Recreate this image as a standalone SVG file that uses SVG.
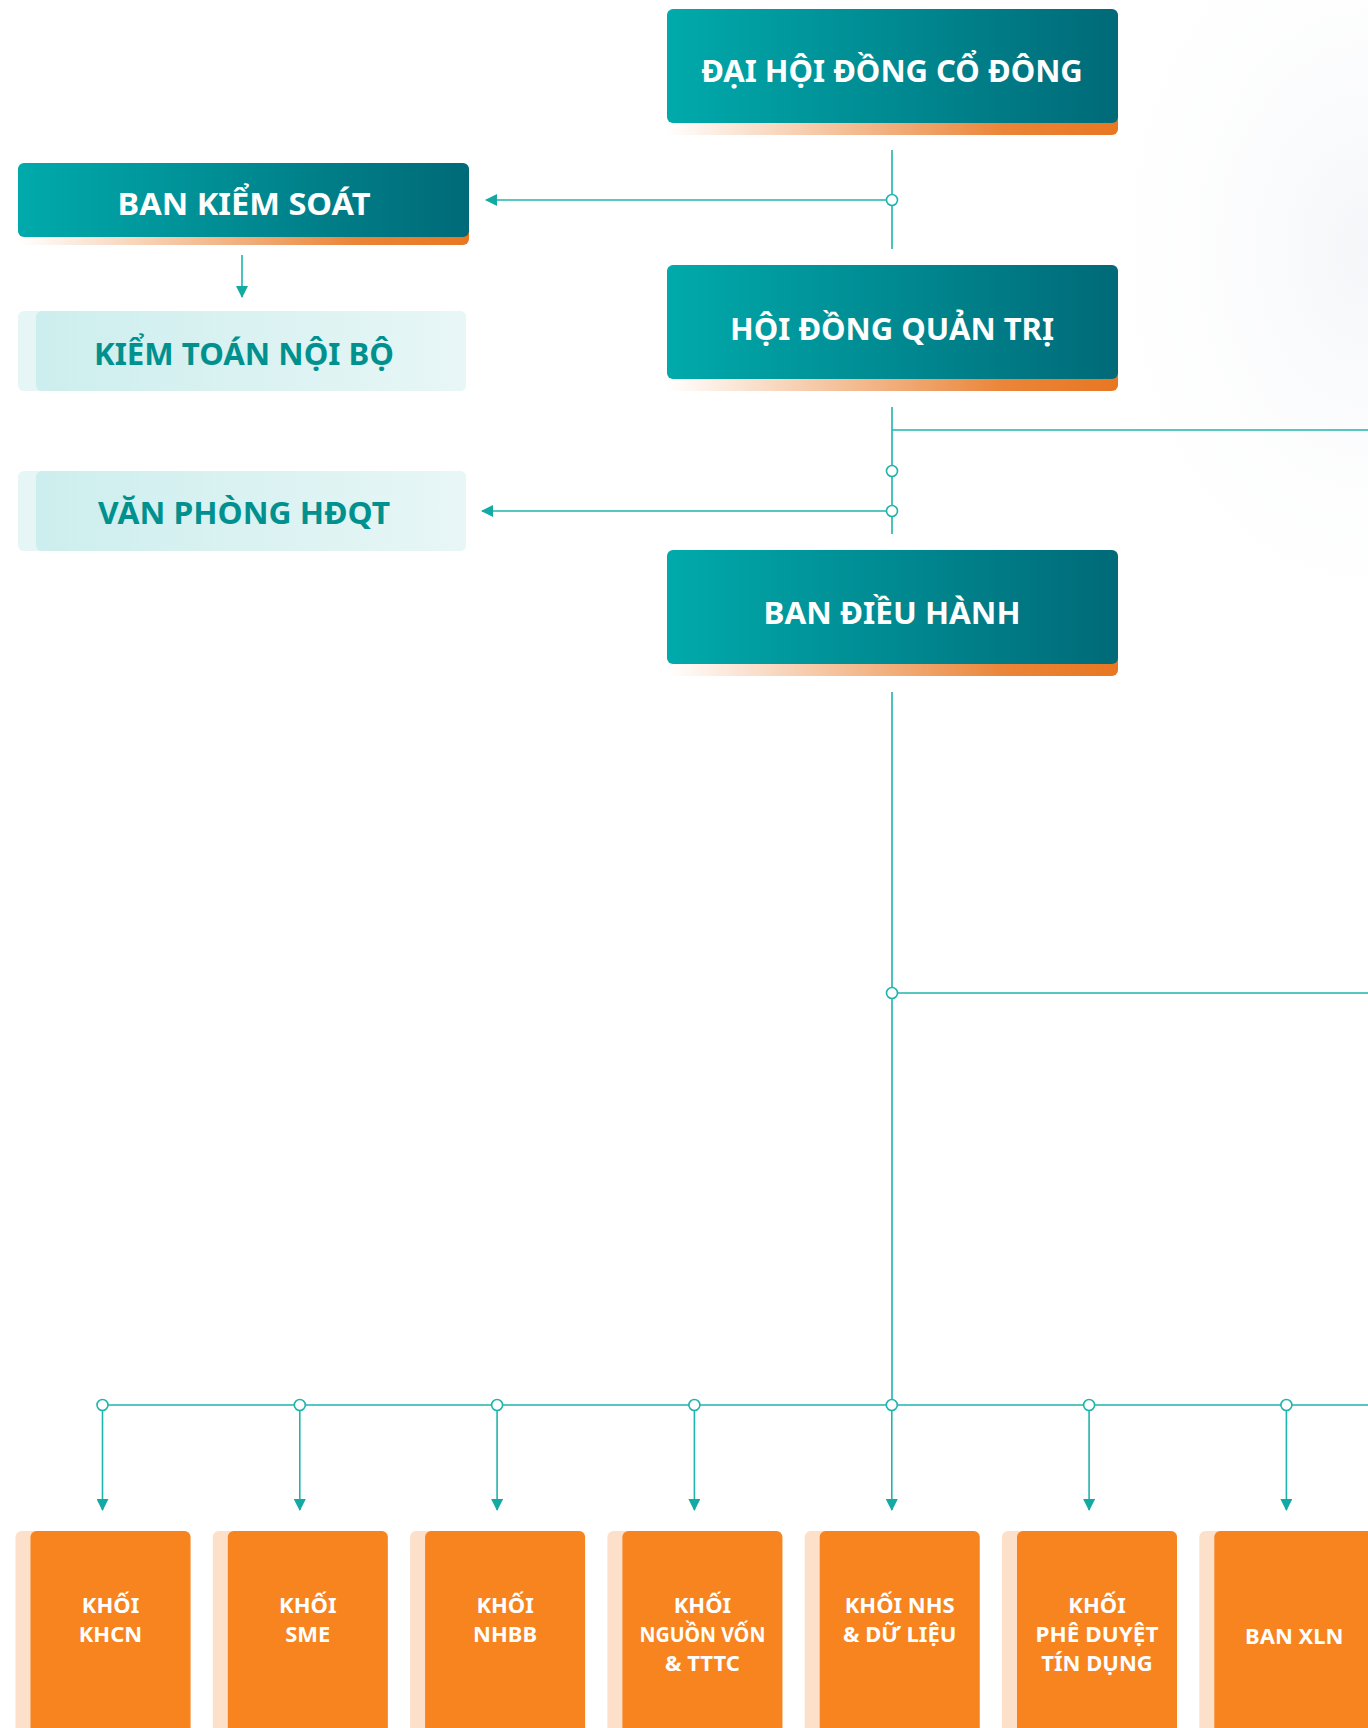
<svg xmlns="http://www.w3.org/2000/svg" width="1368" height="1728" viewBox="0 0 1368 1728">
  <defs>
    <linearGradient id="teal" x1="0" y1="0" x2="1" y2="0">
      <stop offset="0" stop-color="#00aaab"/>
      <stop offset="1" stop-color="#006a78"/>
    </linearGradient>
    <linearGradient id="orangeShadow" x1="0" y1="0" x2="1" y2="0">
      <stop offset="0" stop-color="#e87722" stop-opacity="0"/>
      <stop offset="0.75" stop-color="#e87722" stop-opacity="0.9"/>
      <stop offset="1" stop-color="#e87722"/>
    </linearGradient>
    <linearGradient id="pale" x1="0" y1="0" x2="1" y2="0">
      <stop offset="0" stop-color="#cdeeee"/>
      <stop offset="1" stop-color="#e8f6f6"/>
    </linearGradient>
    <radialGradient id="bgGlow" cx="0.5" cy="0.5" r="0.5">
      <stop offset="0" stop-color="#f4f6f9"/>
      <stop offset="1" stop-color="#ffffff" stop-opacity="0"/>
    </radialGradient>
    <marker id="arrow" markerUnits="userSpaceOnUse" markerWidth="12" markerHeight="12" viewBox="0 0 12 12" refX="11" refY="6" orient="auto">
      <path d="M0,0 L12,6 L0,12 Z" fill="#14aaa4"/>
    </marker>
    <style>
      .title { font-family: "Noto Sans", "DejaVu Sans", sans-serif; font-weight: 700; text-anchor: middle; }
      .white { fill: #ffffff; font-size: 31px; }
      .tealtxt { fill: #00918f; font-size: 31px; }
      .otxt { fill: #ffffff; font-size: 22px; }
      .conn { stroke: #1fb4ad; stroke-width: 1.6; fill: none; }
      .dot { stroke: #1fb4ad; stroke-width: 1.6; fill: #ffffff; }
      .obox { fill: #f7841f; }
      .obase { fill: #fde0c9; }
    </style>
  </defs>

  <rect x="0" y="0" width="1368" height="1728" fill="#ffffff"/>
  <ellipse cx="1368" cy="250" rx="300" ry="420" fill="url(#bgGlow)"/>

  <g id="connectors">
    <line class="conn" x1="892" y1="150" x2="892" y2="249"/>
    <line class="conn" x1="886" y1="200" x2="486" y2="200" marker-end="url(#arrow)"/>
    <line class="conn" x1="242" y1="255" x2="242" y2="297" marker-end="url(#arrow)"/>
    <line class="conn" x1="892" y1="407" x2="892" y2="534"/>
    <line class="conn" x1="892" y1="430" x2="1368" y2="430"/>
    <line class="conn" x1="886" y1="511" x2="482" y2="511" marker-end="url(#arrow)"/>
    <line class="conn" x1="892" y1="692" x2="892" y2="1405"/>
    <line class="conn" x1="898" y1="993" x2="1368" y2="993"/>
    <line class="conn" x1="102.5" y1="1405" x2="1368" y2="1405"/>
    <line class="conn" x1="102.5" y1="1411" x2="102.5" y2="1510" marker-end="url(#arrow)"/>
    <line class="conn" x1="299.8" y1="1411" x2="299.8" y2="1510" marker-end="url(#arrow)"/>
    <line class="conn" x1="497.1" y1="1411" x2="497.1" y2="1510" marker-end="url(#arrow)"/>
    <line class="conn" x1="694.4" y1="1411" x2="694.4" y2="1510" marker-end="url(#arrow)"/>
    <line class="conn" x1="891.8" y1="1411" x2="891.8" y2="1510" marker-end="url(#arrow)"/>
    <line class="conn" x1="1089.1" y1="1411" x2="1089.1" y2="1510" marker-end="url(#arrow)"/>
    <line class="conn" x1="1286.4" y1="1411" x2="1286.4" y2="1510" marker-end="url(#arrow)"/>
    <circle class="dot" cx="892" cy="200" r="5.5"/>
    <circle class="dot" cx="892" cy="471" r="5.5"/>
    <circle class="dot" cx="892" cy="511" r="5.5"/>
    <circle class="dot" cx="892" cy="993" r="5.5"/>
    <circle class="dot" cx="102.5" cy="1405" r="5.5"/>
    <circle class="dot" cx="299.8" cy="1405" r="5.5"/>
    <circle class="dot" cx="497.1" cy="1405" r="5.5"/>
    <circle class="dot" cx="694.4" cy="1405" r="5.5"/>
    <circle class="dot" cx="891.8" cy="1405" r="5.5"/>
    <circle class="dot" cx="1089.1" cy="1405" r="5.5"/>
    <circle class="dot" cx="1286.4" cy="1405" r="5.5"/>
  </g>

  <g id="dai-hoi-dong-co-dong">
    <rect x="667" y="21" width="451" height="114" rx="6" fill="url(#orangeShadow)"/>
    <rect x="667" y="9" width="451" height="114" rx="6" fill="url(#teal)"/>
    <text class="title white" x="892" y="82">ĐẠI HỘI ĐỒNG CỔ ĐÔNG</text>
  </g>

  <g id="ban-kiem-soat">
    <rect x="18" y="171" width="451" height="74" rx="6" fill="url(#orangeShadow)"/>
    <rect x="18" y="163" width="451" height="74" rx="6" fill="url(#teal)"/>
    <text class="title white" x="244" y="215" textLength="253" lengthAdjust="spacingAndGlyphs">BAN KIỂM SOÁT</text>
  </g>

  <g id="kiem-toan-noi-bo">
    <rect x="18" y="311" width="448" height="80" rx="6" fill="#e6f5f5"/>
    <rect x="36" y="311" width="430" height="80" rx="6" fill="url(#pale)"/>
    <text class="title tealtxt" x="244" y="365" textLength="300" lengthAdjust="spacingAndGlyphs">KIỂM TOÁN NỘI BỘ</text>
  </g>

  <g id="van-phong-hdqt">
    <rect x="18" y="471" width="448" height="80" rx="6" fill="#e6f5f5"/>
    <rect x="36" y="471" width="430" height="80" rx="6" fill="url(#pale)"/>
    <text class="title tealtxt" x="244" y="524" textLength="292" lengthAdjust="spacingAndGlyphs">VĂN PHÒNG HĐQT</text>
  </g>

  <g id="hoi-dong-quan-tri">
    <rect x="667" y="277" width="451" height="114" rx="6" fill="url(#orangeShadow)"/>
    <rect x="667" y="265" width="451" height="114" rx="6" fill="url(#teal)"/>
    <text class="title white" x="892" y="340">HỘI ĐỒNG QUẢN TRỊ</text>
  </g>

  <g id="ban-dieu-hanh">
    <rect x="667" y="562" width="451" height="114" rx="6" fill="url(#orangeShadow)"/>
    <rect x="667" y="550" width="451" height="114" rx="6" fill="url(#teal)"/>
    <text class="title white" x="892" y="624" textLength="257" lengthAdjust="spacingAndGlyphs">BAN ĐIỀU HÀNH</text>
  </g>

  <g id="khoi-khcn">
    <rect class="obase" x="15.5" y="1531" width="175" height="210" rx="6"/>
    <rect class="obox" x="30.5" y="1531" width="160" height="210" rx="6"/>
    <text class="title otxt" x="110.5" y="1613">KHỐI</text>
    <text class="title otxt" x="110.5" y="1642">KHCN</text>
  </g>

  <g id="khoi-sme">
    <rect class="obase" x="212.8" y="1531" width="175" height="210" rx="6"/>
    <rect class="obox" x="227.8" y="1531" width="160" height="210" rx="6"/>
    <text class="title otxt" x="307.8" y="1613">KHỐI</text>
    <text class="title otxt" x="307.8" y="1642">SME</text>
  </g>

  <g id="khoi-nhbb">
    <rect class="obase" x="410.1" y="1531" width="175" height="210" rx="6"/>
    <rect class="obox" x="425.1" y="1531" width="160" height="210" rx="6"/>
    <text class="title otxt" x="505.1" y="1613">KHỐI</text>
    <text class="title otxt" x="505.1" y="1642">NHBB</text>
  </g>

  <g id="khoi-nguon-von">
    <rect class="obase" x="607.4" y="1531" width="175" height="210" rx="6"/>
    <rect class="obox" x="622.4" y="1531" width="160" height="210" rx="6"/>
    <text class="title otxt" x="702.4" y="1613">KHỐI</text>
    <text class="title otxt" x="702.4" y="1642" textLength="126" lengthAdjust="spacingAndGlyphs">NGUỒN VỐN</text>
    <text class="title otxt" x="702.4" y="1671">&amp; TTTC</text>
  </g>

  <g id="khoi-nhs">
    <rect class="obase" x="804.7" y="1531" width="175" height="210" rx="6"/>
    <rect class="obox" x="819.7" y="1531" width="160" height="210" rx="6"/>
    <text class="title otxt" x="899.7" y="1613">KHỐI NHS</text>
    <text class="title otxt" x="899.7" y="1642">&amp; DỮ LIỆU</text>
  </g>

  <g id="khoi-phe-duyet">
    <rect class="obase" x="1002" y="1531" width="175" height="210" rx="6"/>
    <rect class="obox" x="1017" y="1531" width="160" height="210" rx="6"/>
    <text class="title otxt" x="1097" y="1613">KHỐI</text>
    <text class="title otxt" x="1097" y="1642" textLength="123" lengthAdjust="spacingAndGlyphs">PHÊ DUYỆT</text>
    <text class="title otxt" x="1097" y="1671">TÍN DỤNG</text>
  </g>

  <g id="ban-xln">
    <rect class="obase" x="1199.3" y="1531" width="175" height="210" rx="6"/>
    <rect class="obox" x="1214.3" y="1531" width="160" height="210" rx="6"/>
    <text class="title otxt" x="1294.3" y="1644">BAN XLN</text>
  </g>
</svg>
